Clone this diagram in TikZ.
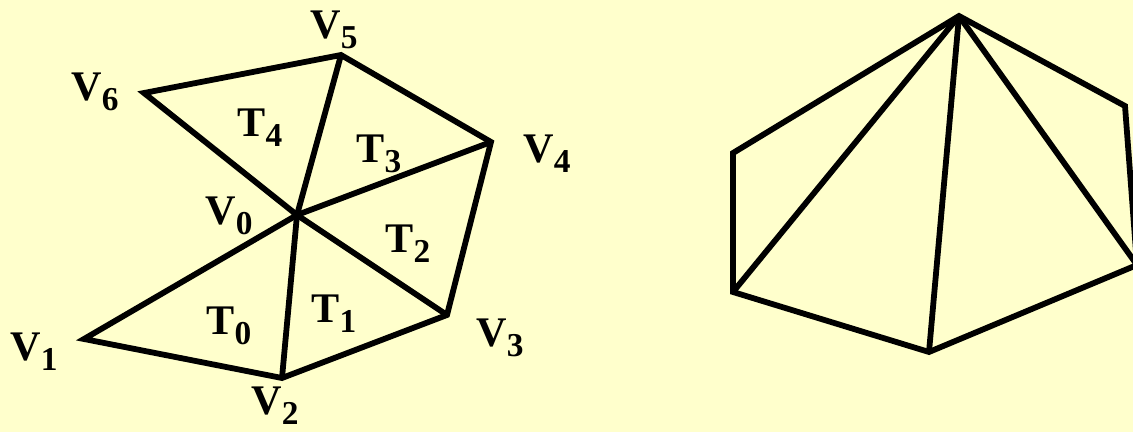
\documentclass[tikz,border=0pt]{standalone}
\usepackage{fontspec}
\setmainfont{Liberation Serif}
\definecolor{paper}{HTML}{FFFFCC}
\newcommand{\lab}[2]{#1\raisebox{-0.24em}{\fontsize{19}{19}\selectfont #2}}

\begin{document}
\begin{tikzpicture}[
  x=0.02cm, y=-0.02cm,
  % Kraštinės
  edge/.style={line width=3.3pt, line join=miter},
  % Viršūnių ir trikampių žymės
  every node/.style={font=\fontsize{24}{24}\selectfont\bfseries, inner sep=0pt}
]
  \useasboundingbox (0,0) rectangle (1133,432);
  \clip (0,0) rectangle (1133,432);
  \fill[paper] (0,0) rectangle (1133,432);

  % Kairysis vėduoklės trianguliavimas
  \coordinate (v0) at (297,215);
  \coordinate (v1) at (84,339);
  \coordinate (v2) at (282,378);
  \coordinate (v3) at (447,315);
  \coordinate (v4) at (491,142);
  \coordinate (v5) at (341,55);
  \coordinate (v6) at (144,93);

  \draw[edge] (v0) -- (v1) -- (v2) -- (v3) -- (v4) -- (v5) -- (v6) -- cycle;
  \foreach \i in {2,...,5}
    \draw[edge] (v0) -- (v\i);

  \node (lv0) at (229,216) {\lab{V}{0}};
  \node (lv1) at (34,352)  {\lab{V}{1}};
  \node (lv2) at (275,406) {\lab{V}{2}};
  \node (lv3) at (500,338) {\lab{V}{3}};
  \node (lv4) at (547,154) {\lab{V}{4}};
  \node (lv5) at (334,30)  {\lab{V}{5}};
  \node (lv6) at (95,92)   {\lab{V}{6}};

  \node (lt0) at (229,326) {\lab{T}{0}};
  \node (lt1) at (334,314) {\lab{T}{1}};
  \node (lt2) at (408,244) {\lab{T}{2}};
  \node (lt3) at (379,154) {\lab{T}{3}};
  \node (lt4) at (260,128) {\lab{T}{4}};

  % Dešinysis daugiakampis
  \coordinate (top) at (959,16);
  \coordinate (ul)  at (733,153);
  \coordinate (ll)  at (733,292);
  \coordinate (bot) at (929,352);
  \coordinate (lr)  at (1137,265);
  \coordinate (ur)  at (1125,106);

  \draw[edge] (top) -- (ul) -- (ll) -- (bot) -- (lr) -- (ur) -- cycle;
  \foreach \p in {ll,bot,lr}
    \draw[edge] (top) -- (\p);

\end{tikzpicture}
\end{document}
